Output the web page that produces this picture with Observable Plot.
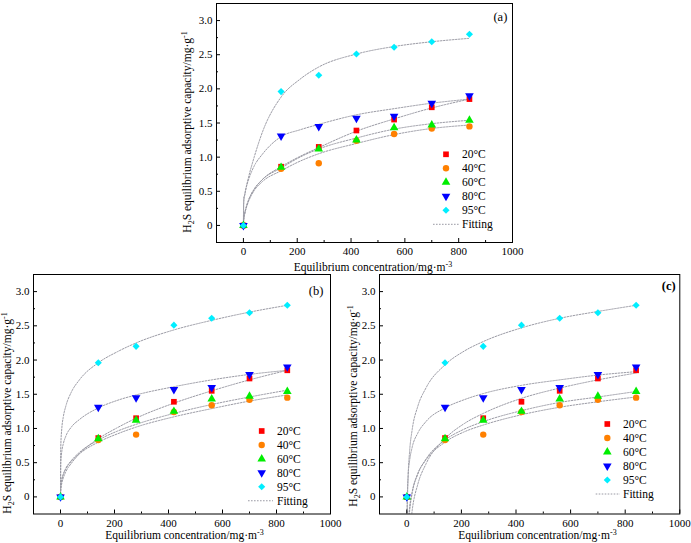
<!DOCTYPE html>
<html><head><meta charset="utf-8">
<script src="https://cdn.jsdelivr.net/npm/d3@7"></script>
<script src="https://cdn.jsdelivr.net/npm/@observablehq/plot@0.6"></script>
<style>
body{margin:0;background:#fff;}
#chart{position:relative;width:691px;height:543px;overflow:hidden;background:#fff;font-family:'Liberation Serif','Times New Roman','DejaVu Serif',serif;}
#chart svg{position:absolute;}
#chart svg text{font-family:'Liberation Serif','Times New Roman','DejaVu Serif',serif;}
</style></head><body><div id="chart"></div>
<script>
// ---------- data ----------
const temps = ["20°C", "40°C", "60°C", "80°C", "95°C"];
const conc = [0, 140, 280, 420, 560, 700, 840];
const q20 = [0, 0.86, 1.15, 1.39, 1.55, 1.73, 1.85];
const q40 = [0, 0.83, 0.91, 1.24, 1.34, 1.42, 1.45];
const q60 = [0, 0.85, 1.12, 1.25, 1.43, 1.47, 1.54];
const q80 = [0, 1.31, 1.45, 1.57, 1.60, 1.79, 1.90];
const q95 = [0, 1.96, 2.20, 2.51, 2.61, 2.69, 2.80];

// fitting curves
const fitX = [0, 1, 5, 10, 20, 40, 70, 140, 210, 280, 420, 560, 700, 840];
// (a)
const fitA20 = [0, 0.08, 0.18, 0.26, 0.38, 0.53, 0.67, 0.86, 1.01, 1.14, 1.38, 1.56, 1.72, 1.85];
const fitA40 = [0, 0.07, 0.17, 0.25, 0.36, 0.51, 0.64, 0.80, 0.94, 1.05, 1.20, 1.33, 1.42, 1.47];
const fitA60 = [0, 0.08, 0.18, 0.26, 0.38, 0.53, 0.67, 0.84, 1.00, 1.12, 1.28, 1.41, 1.49, 1.54];
const fitA80 = [0, 0.30, 0.45, 0.55, 0.68, 0.87, 1.04, 1.30, 1.40, 1.48, 1.62, 1.71, 1.79, 1.85];
const fitA95 = [0, 0.40, 0.45, 0.55, 0.72, 1.00, 1.36, 1.88, 2.14, 2.32, 2.51, 2.62, 2.69, 2.74];
// (b)
const fitB20 = [0, 0.10, 0.20, 0.27, 0.37, 0.49, 0.63, 0.85, 1.01, 1.15, 1.37, 1.55, 1.71, 1.85];
const fitB40 = [0, 0.14, 0.25, 0.32, 0.41, 0.52, 0.63, 0.80, 0.92, 1.02, 1.17, 1.29, 1.40, 1.49];
const fitB60 = [0, 0.15, 0.26, 0.33, 0.42, 0.53, 0.65, 0.83, 0.96, 1.06, 1.22, 1.35, 1.46, 1.56];
const fitB80 = [0, 0.49, 0.67, 0.77, 0.89, 1.02, 1.13, 1.30, 1.41, 1.49, 1.61, 1.71, 1.79, 1.85];
const fitB95 = [0, 0.73, 1.01, 1.16, 1.33, 1.53, 1.71, 1.96, 2.12, 2.25, 2.44, 2.58, 2.70, 2.80];
// (c)
const fitXc = [0.5, 1, 5, 10, 20, 40, 70, 140, 210, 280, 420, 560, 700, 840];
const fitC20 = [-2.17, -1.80, -0.94, -0.57, -0.19, 0.18, 0.48, 0.85, 1.07, 1.22, 1.44, 1.59, 1.71, 1.81];
const fitC40 = [-1.27, -1.02, -0.43, -0.17, 0.08, 0.34, 0.54, 0.80, 0.95, 1.05, 1.20, 1.31, 1.39, 1.46];
const fitC60 = [-1.40, -1.13, -0.49, -0.22, 0.06, 0.33, 0.55, 0.83, 0.99, 1.10, 1.26, 1.38, 1.46, 1.54];
const fitC80 = [-0.37, -0.16, 0.32, 0.52, 0.73, 0.93, 1.10, 1.30, 1.42, 1.51, 1.63, 1.71, 1.78, 1.83];
const fitC95 = [-0.81, -0.47, 0.31, 0.65, 0.99, 1.32, 1.59, 1.93, 2.13, 2.27, 2.47, 2.61, 2.71, 2.80];

const xMajor = [0, 200, 400, 600, 800, 1000];
const xMinor = [100, 300, 500, 700, 900];
const yMajor = [0, 0.5, 1.0, 1.5, 2.0, 2.5, 3.0];
const yMinor = [0.25, 0.75, 1.25, 1.75, 2.25, 2.75];
const panelLabels = ["(a)", "(b)", "(c)"];
const fitLabel = "Fitting";

// ---------- styles ----------
const FONT = "'Liberation Serif','Times New Roman','DejaVu Serif',serif";
const colors = ["#ff0000", "#ff8000", "#00ee00", "#0000ff", "#00eeff"];
const symbols = ["square", "circle", "triangle", "triangle", "diamond2"];
const d3symbols = [d3.symbolSquare, d3.symbolCircle, d3.symbolTriangle, d3.symbolTriangle, d3.symbolDiamond2];
const rotations = [0, 0, 0, 180, 0];
const R = 3.2;
const fitStroke = "#9a9aa4";
const TICK_FS = 11, TITLE_FS = 11.5, LEG_FS = 11.5, LAB_FS = 12.5;

const series = [q20, q40, q60, q80, q95];

const panels = [
  {left: 170, top: 0, width: 350, height: 272, mt: 3, mr: 8, mb: 30, ml: 46,
   fx: fitX, fits: [fitA20, fitA40, fitA60, fitA80, fitA95],
   lab: {x: 337.3, y: 21, bold: false},
   xt: {x: 203, y: 270.5}, yt: {x: 21, y: 132},
   leg: {mx: 276, tx: 292, l1: 263, l2: 289, y0: 154.3, dy: 14}},
  {left: 0, top: 270, width: 345, height: 273, mt: 4, mr: 15, mb: 29.5, ml: 33,
   fx: fitX, fits: [fitB20, fitB40, fitB60, fitB80, fitB95],
   lab: {x: 323.3, y: 24.5, bold: false},
   xt: {x: 184.5, y: 269}, yt: {x: 10.5, y: 143},
   leg: {mx: 261.7, tx: 277, l1: 248, l2: 273, y0: 161, dy: 13.95}},
  {left: 345, top: 270, width: 346, height: 273, mt: 4, mr: 11.7, mb: 29.5, ml: 34,
   fx: fitXc, fits: [fitC20, fitC40, fitC60, fitC80, fitC95],
   lab: {x: 330.7, y: 19.5, bold: true},
   xt: {x: 192.5, y: 269}, yt: {x: 11.5, y: 136},
   leg: {mx: 262.3, tx: 278, l1: 250.7, l2: 275, y0: 154, dy: 14}}
];

const chart = document.getElementById("chart");
const yFmt = d => d === 0 ? "0" : d.toFixed(1);

panels.forEach((p, pi) => {
  const fw = p.width - p.ml - p.mr;
  const fh = p.height - p.mt - p.mb;
  const marks = [];
  // fitting lines
  p.fits.forEach(arr => {
    marks.push(Plot.line(p.fx.map((x, i) => ({x, y: arr[i]})), {
      x: "x", y: "y", stroke: fitStroke, strokeWidth: 1, strokeDasharray: "1.6,1.4",
      curve: "monotone-x", clip: true
    }));
  });
  // points
  series.forEach((arr, si) => {
    marks.push(Plot.dot(conc.map((x, i) => ({x, y: arr[i]})), {
      x: "x", y: "y", symbol: symbols[si], fill: colors[si], r: R, rotate: rotations[si]
    }));
  });
  // inward ticks
  marks.push(Plot.tickX(xMajor, {x: d => d, insetTop: fh - 4, stroke: "#000"}));
  marks.push(Plot.tickX(xMinor, {x: d => d, insetTop: fh - 2, stroke: "#000"}));
  marks.push(Plot.tickY(yMajor, {y: d => d, insetRight: fw - 4, stroke: "#000"}));
  marks.push(Plot.tickY(yMinor, {y: d => d, insetRight: fw - 2, stroke: "#000"}));
  marks.push(Plot.axisX({ticks: xMajor, tickSize: 0, tickPadding: 5, label: null, tickFormat: d => String(d), fontSize: TICK_FS}));
  marks.push(Plot.axisY({ticks: yMajor, tickSize: 0, tickPadding: 4, label: null, tickFormat: yFmt, fontSize: TICK_FS}));
  marks.push(Plot.frame({stroke: "#000", strokeWidth: 1}));

  const svg = Plot.plot({
    width: p.width, height: p.height,
    marginTop: p.mt, marginRight: p.mr, marginBottom: p.mb, marginLeft: p.ml,
    x: {domain: [-100, 1000]},
    y: {domain: [-0.25, 3.25]},
    style: {fontFamily: FONT, fontSize: TICK_FS + "px", color: "#000", background: "transparent", overflow: "visible"},
    marks
  });
  svg.style.left = p.left + "px";
  svg.style.top = p.top + "px";
  chart.appendChild(svg);

  const s = d3.select(svg);
  // panel label
  s.append("text").attr("x", p.lab.x).attr("y", p.lab.y).attr("text-anchor", "end")
    .style("font-family", FONT).attr("font-size", LAB_FS).attr("font-weight", p.lab.bold ? "bold" : "normal")
    .attr("fill", "#000").text(panelLabels[pi]);
  // x title
  const xt = s.append("text").attr("x", p.xt.x).attr("y", p.xt.y).attr("text-anchor", "middle")
    .style("font-family", FONT).attr("font-size", TITLE_FS).attr("fill", "#000");
  xt.append("tspan").text("Equilibrium concentration/mg·m");
  xt.append("tspan").attr("dy", -4).attr("font-size", 8).text("-3");
  // y title
  const yt = s.append("text").attr("transform", `translate(${p.yt.x},${p.yt.y}) rotate(-90)`)
    .attr("text-anchor", "middle").style("font-family", FONT).attr("font-size", TITLE_FS).attr("fill", "#000");
  yt.append("tspan").text("H");
  yt.append("tspan").attr("dy", 3).attr("font-size", 8).text("2");
  yt.append("tspan").attr("dy", -3).text("S equilibrium adsorptive capacity/mg·g");
  yt.append("tspan").attr("dy", -4).attr("font-size", 8).text("-1");
  // legend
  const g = s.append("g");
  temps.forEach((t, i) => {
    const y = p.leg.y0 + i * p.leg.dy;
    g.append("path")
      .attr("d", d3.symbol(d3symbols[i], Math.PI * R * R)())
      .attr("transform", `translate(${p.leg.mx},${y}) rotate(${rotations[i]})`)
      .attr("fill", colors[i]);
    g.append("text").attr("x", p.leg.tx).attr("y", y + 4).attr("text-anchor", "start")
      .style("font-family", FONT).attr("font-size", LEG_FS).attr("fill", "#000").text(t);
  });
  const yf = p.leg.y0 + 5 * p.leg.dy;
  g.append("line").attr("x1", p.leg.l1).attr("x2", p.leg.l2).attr("y1", yf).attr("y2", yf)
    .attr("stroke", fitStroke).attr("stroke-dasharray", "1.6,1.4");
  g.append("text").attr("x", p.leg.tx).attr("y", yf + 4).attr("text-anchor", "start")
    .style("font-family", FONT).attr("font-size", LEG_FS).attr("fill", "#000").text(fitLabel);
});
</script></body></html>
